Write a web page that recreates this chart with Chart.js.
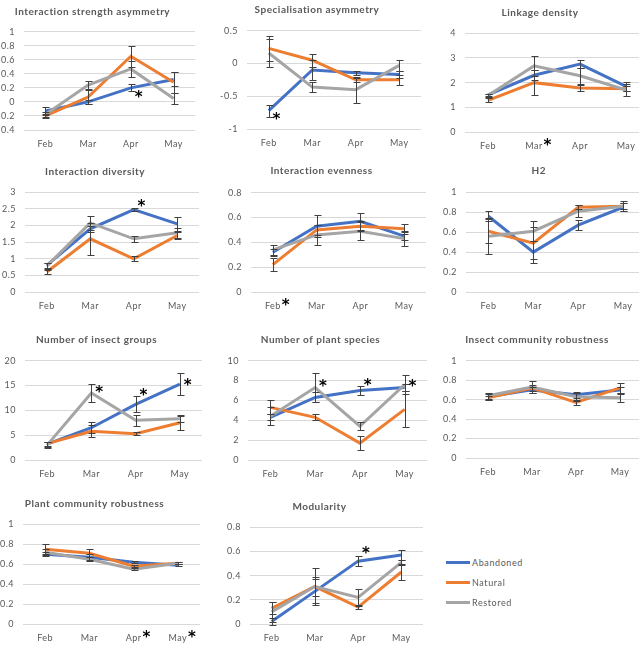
<!DOCTYPE html>
<html>
<head>
<meta charset="utf-8">
<script src="https://cdn.jsdelivr.net/npm/chart.js@4.4.1/dist/chart.umd.min.js"></script>
<style>
  html, body { margin: 0; padding: 0; }
  body { width: 639px; height: 651px; overflow: hidden; position: relative; background: #fff; font-family: Lato, 'Liberation Sans', sans-serif; }
  canvas { position: absolute; }
  .leg { position: absolute; left: 446px; height: 10px; font-size: 9px; line-height: 10px; letter-spacing: 0.6px; color: #595959; }
  .leg span { display: inline-block; width: 24px; height: 3px; vertical-align: middle; margin-right: 2px; position: relative; top: -1px; }
</style>
</head>
<body>
<div id="charts"></div>
<div class="leg" style="top:558px"><span style="background:#4472C4"></span>Abandoned</div>
<div class="leg" style="top:578px"><span style="background:#ED7D31"></span>Natural</div>
<div class="leg" style="top:598px"><span style="background:#A5A5A5"></span>Restored</div>

<script>
const months = ['Feb', 'Mar', 'Apr', 'May'];
const seriesNames = ['Abandoned', 'Natural', 'Restored'];

// Interaction strength asymmetry
const isaRange = [-0.4, 1, 0.2];
const isaAbandoned = [-0.13, 0.0, 0.2, 0.32];
const isaNatural = [-0.2, 0.07, 0.65, 0.28];
const isaRestored = [-0.18, 0.24, 0.47, 0.05];
const isaErrAbandoned = [0.06, 0.03, 0.05, 0.1];
const isaErrNatural = [0.03, 0.1, 0.15, 0.15];
const isaErrRestored = [0.04, 0.06, 0.11, 0.08];
const isaStarMonths = ['Apr'];
const isaStarValues = [0.12];

// Specialisation asymmetry
const spaRange = [-1, 0.5, 0.5];
const spaAbandoned = [-0.72, -0.1, -0.14, -0.17];
const spaNatural = [0.23, 0.05, -0.25, -0.25];
const spaRestored = [0.16, -0.36, -0.4, -0.03];
const spaErrAbandoned = [0.09, 0.15, 0.03, 0.05];
const spaErrNatural = [0.19, 0.1, 0.03, 0.08];
const spaErrRestored = [0.22, 0.08, 0.2, 0.08];
const spaStarMonths = ['Feb'];
const spaStarValues = [-0.78];

// Linkage density
const ldRange = [0, 4, 1];
const ldAbandoned = [1.5, 2.3, 2.75, 1.85];
const ldNatural = [1.28, 2.0, 1.78, 1.75];
const ldRestored = [1.48, 2.68, 2.28, 1.7];
const ldErrAbandoned = [0.06, 0.2, 0.17, 0.18];
const ldErrNatural = [0.08, 0.5, 0.13, 0.1];
const ldErrRestored = [0.05, 0.42, 0.32, 0.25];
const ldStarMonths = ['Mar'];
const ldStarValues = [null];

// Interaction diversity
const idRange = [0, 3, 0.5];
const idAbandoned = [0.8, 1.9, 2.48, 2.05];
const idNatural = [0.6, 1.6, 1.0, 1.7];
const idRestored = [0.78, 2.08, 1.6, 1.78];
const idErrAbandoned = [0.07, 0.1, 0.04, 0.2];
const idErrNatural = [0.05, 0.48, 0.08, 0.1];
const idErrRestored = [0.08, 0.22, 0.1, 0.15];
const idStarMonths = ['Apr'];
const idStarValues = [2.7];

// Interaction evenness
const ieRange = [0, 0.8, 0.2];
const ieAbandoned = [0.32, 0.53, 0.57, 0.45];
const ieNatural = [0.22, 0.5, 0.53, 0.51];
const ieRestored = [0.34, 0.46, 0.49, 0.43];
const ieErrAbandoned = [0.03, 0.09, 0.07, 0.03];
const ieErrNatural = [0.05, 0.04, 0.04, 0.04];
const ieErrRestored = [0.04, 0.08, 0.07, 0.06];
const ieStarMonths = ['Feb'];
const ieStarValues = [null];

// H2
const h2Range = [0, 1, 0.2];
const h2Abandoned = [0.76, 0.4, 0.67, 0.85];
const h2Natural = [0.61, 0.49, 0.85, 0.86];
const h2Restored = [0.56, 0.61, 0.81, 0.86];
const h2ErrAbandoned = [0.05, 0.11, 0.05, 0.04];
const h2ErrNatural = [0.12, 0.16, 0.02, 0.03];
const h2ErrRestored = [0.18, 0.1, 0.06, 0.05];
const h2StarMonths = [];
const h2StarValues = [];

// Number of insect groups
const nigRange = [0, 20, 5];
const nigAbandoned = [3.2, 6.5, 11.2, 15.3];
const nigNatural = [3.3, 5.8, 5.3, 7.5];
const nigRestored = [3.0, 13.5, 8.0, 8.3];
const nigErrAbandoned = [0.5, 1.1, 1.6, 2.2];
const nigErrNatural = [0.4, 1.2, 0.3, 1.5];
const nigErrRestored = [0.6, 1.9, 1.1, 0.6];
const nigStarMonths = ['Mar', 'Apr', 'May'];
const nigStarValues = [14.6, 13.9, 16];

// Number of plant species
const npsRange = [0, 10, 2];
const npsAbandoned = [4.3, 6.3, 7.0, 7.3];
const npsNatural = [5.3, 4.3, 1.7, 5.1];
const npsRestored = [4.4, 7.3, 3.4, 7.6];
const npsErrAbandoned = [0.3, 0.5, 0.5, 0.4];
const npsErrNatural = [0.7, 0.3, 0.7, 1.8];
const npsErrRestored = [0.9, 1.5, 0.4, 1.0];
const npsStarMonths = ['Mar', 'Apr', 'May'];
const npsStarValues = [7.9, 8.0, 7.9];

// Insect community robustness
const icrRange = [0, 1, 0.2];
const icrAbandoned = [0.63, 0.7, 0.65, 0.7];
const icrNatural = [0.62, 0.72, 0.57, 0.72];
const icrRestored = [0.64, 0.73, 0.63, 0.62];
const icrErrAbandoned = [0.03, 0.03, 0.03, 0.03];
const icrErrNatural = [0.02, 0.03, 0.03, 0.05];
const icrErrRestored = [0.03, 0.06, 0.04, 0.04];
const icrStarMonths = [];
const icrStarValues = [];

// Plant community robustness
const pcrRange = [0, 1, 0.2];
const pcrAbandoned = [0.7, 0.67, 0.62, 0.59];
const pcrNatural = [0.75, 0.71, 0.58, 0.61];
const pcrRestored = [0.72, 0.65, 0.55, 0.61];
const pcrErrAbandoned = [0.02, 0.03, 0.01, 0.01];
const pcrErrNatural = [0.05, 0.04, 0.01, 0.01];
const pcrErrRestored = [0.03, 0.02, 0.01, 0.01];
const pcrStarMonths = ['Apr', 'May'];
const pcrStarValues = [null, null];

// Modularity
const modRange = [0, 0.8, 0.2];
const modAbandoned = [0.02, 0.27, 0.52, 0.57];
const modNatural = [0.13, 0.31, 0.14, 0.43];
const modRestored = [0.1, 0.31, 0.22, 0.51];
const modErrAbandoned = [0.03, 0.1, 0.04, 0.04];
const modErrNatural = [0.05, 0.08, 0.02, 0.07];
const modErrRestored = [0.08, 0.15, 0.07, 0.02];
const modStarMonths = ['Apr'];
const modStarValues = [0.62];

const COLORS = ['#4472C4', '#ED7D31', '#A5A5A5'];
const TEXT = '#595959';
const FONT = "Lato, 'Liberation Sans', sans-serif";
const STAR_FONT = "'DejaVu Sans', sans-serif";
const Y_W = 34, X_H = 24, TITLE_SIZE = 10, TICK_SIZE = 9;
const TITLE_LH = TITLE_SIZE * 1.2;

// plot area of every panel in the page (gridline extents) and title centre
const panels = [
  { title: 'Interaction strength asymmetry', range: isaRange, vals: [isaAbandoned, isaNatural, isaRestored], errs: [isaErrAbandoned, isaErrNatural, isaErrRestored], starM: isaStarMonths, starV: isaStarValues,
    box: { l: 24, r: 195, top: 31.7, bottom: 130, tx: 98, ty: 12 } },
  { title: 'Specialisation asymmetry', range: spaRange, vals: [spaAbandoned, spaNatural, spaRestored], errs: [spaErrAbandoned, spaErrNatural, spaErrRestored], starM: spaStarMonths, starV: spaStarValues,
    box: { l: 247, r: 421, top: 30.7, bottom: 129.3, tx: 324, ty: 10 } },
  { title: 'Linkage density', range: ldRange, vals: [ldAbandoned, ldNatural, ldRestored], errs: [ldErrAbandoned, ldErrNatural, ldErrRestored], starM: ldStarMonths, starV: ldStarValues,
    box: { l: 465, r: 649, top: 33.3, bottom: 131.7, tx: 552, ty: 12.7 } },
  { title: 'Interaction diversity', range: idRange, vals: [idAbandoned, idNatural, idRestored], errs: [idErrAbandoned, idErrNatural, idErrRestored], starM: idStarMonths, starV: idStarValues,
    box: { l: 25, r: 199, top: 192.3, bottom: 291.7, tx: 103, ty: 172 } },
  { title: 'Interaction evenness', range: ieRange, vals: [ieAbandoned, ieNatural, ieRestored], errs: [ieErrAbandoned, ieErrNatural, ieErrRestored], starM: ieStarMonths, starV: ieStarValues,
    box: { l: 251, r: 426, top: 192.7, bottom: 291.7, tx: 329, ty: 170.7 } },
  { title: 'H2', range: h2Range, vals: [h2Abandoned, h2Natural, h2Restored], errs: [h2ErrAbandoned, h2ErrNatural, h2ErrRestored], starM: h2StarMonths, starV: h2StarValues,
    box: { l: 465.5, r: 645.5, top: 192.3, bottom: 291.7, tx: 546, ty: 170.7 } },
  { title: 'Number of insect groups', range: nigRange, vals: [nigAbandoned, nigNatural, nigRestored], errs: [nigErrAbandoned, nigErrNatural, nigErrRestored], starM: nigStarMonths, starV: nigStarValues,
    box: { l: 25, r: 202, top: 360.7, bottom: 460, tx: 105, ty: 340 } },
  { title: 'Number of plant species', range: npsRange, vals: [npsAbandoned, npsNatural, npsRestored], errs: [npsErrAbandoned, npsErrNatural, npsErrRestored], starM: npsStarMonths, starV: npsStarValues,
    box: { l: 248, r: 427, top: 360.7, bottom: 460, tx: 329, ty: 340 } },
  { title: 'Insect community robustness', range: icrRange, vals: [icrAbandoned, icrNatural, icrRestored], errs: [icrErrAbandoned, icrErrNatural, icrErrRestored], starM: icrStarMonths, starV: icrStarValues,
    box: { l: 466, r: 642, top: 360.7, bottom: 458.3, tx: 545, ty: 340 } },
  { title: 'Plant community robustness', range: pcrRange, vals: [pcrAbandoned, pcrNatural, pcrRestored], errs: [pcrErrAbandoned, pcrErrNatural, pcrErrRestored], starM: pcrStarMonths, starV: pcrStarValues,
    box: { l: 23, r: 200, top: 524.3, bottom: 624.3, tx: 103, ty: 504 } },
  { title: 'Modularity', range: modRange, vals: [modAbandoned, modNatural, modRestored], errs: [modErrAbandoned, modErrNatural, modErrRestored], starM: modStarMonths, starV: modStarValues,
    box: { l: 250, r: 423, top: 527.3, bottom: 624, tx: 330, ty: 506.7 } }
];

// a little letter spacing, like the spread-out text of the original
const spacing = {
  id: 'spacing',
  beforeInit(chart) { chart.ctx.letterSpacing = '0.5px'; },
  beforeDraw(chart) { chart.ctx.letterSpacing = '0.5px'; }
};

// error bars with caps, drawn on top of the lines
const errorBars = {
  id: 'errorBars',
  afterDatasetsDraw(chart) {
    const { ctx, scales: { x, y } } = chart;
    ctx.save();
    ctx.strokeStyle = '#404040';
    ctx.lineWidth = 1;
    chart.data.datasets.forEach(ds => {
      ds.errors.forEach((e, i) => {
        const px = Math.round(x.getPixelForValue(i)) + 0.5;
        const t = Math.round(y.getPixelForValue(ds.data[i] + e)) + 0.5;
        const b = Math.round(y.getPixelForValue(ds.data[i] - e)) + 0.5;
        ctx.beginPath();
        ctx.moveTo(px, t); ctx.lineTo(px, b);
        ctx.moveTo(px - 3, t); ctx.lineTo(px + 4, t);
        ctx.moveTo(px - 3, b); ctx.lineTo(px + 4, b);
        ctx.stroke();
      });
    });
    ctx.restore();
  }
};

function starPlugin(starM, starV) {
  return {
    id: 'stars',
    afterDraw(chart) {
      const { ctx, scales: { x, y }, chartArea } = chart;
      ctx.save();
      ctx.fillStyle = '#000';
      ctx.textAlign = 'center';
      ctx.textBaseline = 'alphabetic';
      starM.forEach((m, k) => {
        const cx = x.getPixelForValue(months.indexOf(m));
        let sx, sy;
        if (starV[k] === null) {
          // star sits next to the month label
          ctx.font = TICK_SIZE + 'px ' + FONT;
          const half = ctx.measureText(m).width / 2;
          sx = cx + half + 5;
          sy = chartArea.bottom + 10 + TICK_SIZE * 0.6 - 6;
        } else {
          sx = cx + 8;
          sy = y.getPixelForValue(starV[k]);
        }
        ctx.font = 'bold 15px ' + STAR_FONT;
        ctx.fillText('*', sx, sy + 9);
      });
      ctx.restore();
    }
  };
}

const holder = document.getElementById('charts');

panels.forEach(p => {
  const b = p.box;
  const left = Math.round(b.l - Y_W);
  const width = Math.round(Math.max(2 * (b.tx - left), b.r - left));
  const top = Math.round(b.ty - TITLE_LH / 2);
  const height = Math.round(b.bottom - top + X_H);
  const canvas = document.createElement('canvas');
  canvas.width = width; canvas.height = height;
  canvas.style.left = left + 'px'; canvas.style.top = top + 'px';
  canvas.style.width = width + 'px'; canvas.style.height = height + 'px';
  holder.appendChild(canvas);

  new Chart(canvas, {
    type: 'line',
    data: {
      labels: months,
      datasets: seriesNames.map((name, i) => ({
        label: name,
        data: p.vals[i],
        errors: p.errs[i],
        borderColor: COLORS[i],
        backgroundColor: COLORS[i],
        borderWidth: 3,
        pointRadius: 0,
        tension: 0,
        order: 3 - i
      }))
    },
    options: {
      responsive: false,
      animation: false,
      events: [],
      layout: { padding: { left: 0, top: 0, bottom: 0, right: width - (b.r - left) } },
      plugins: {
        legend: { display: false },
        tooltip: { enabled: false },
        title: {
          display: true,
          text: p.title,
          color: TEXT,
          font: { family: FONT, size: TITLE_SIZE, weight: 'bold' },
          padding: { top: 0, bottom: Math.max(0, b.top - top - TITLE_LH) }
        }
      },
      scales: {
        x: {
          type: 'category',
          offset: true,
          grid: { display: false, drawTicks: false },
          border: { display: false },
          ticks: { color: TEXT, font: { family: FONT, size: TICK_SIZE }, padding: 9, maxRotation: 0 },
          afterFit: s => { s.height = X_H; }
        },
        y: {
          min: p.range[0],
          max: p.range[1],
          grid: { color: '#d9d9d9', drawTicks: false },
          border: { display: false },
          ticks: {
            stepSize: p.range[2],
            color: TEXT,
            font: { family: FONT, size: TICK_SIZE },
            padding: 9,
            callback: v => String(+Number(v).toFixed(2))
          },
          afterFit: s => { s.width = Y_W; }
        }
      }
    },
    plugins: [spacing, errorBars, starPlugin(p.starM, p.starV)]
  });
});
</script>
</body>
</html>
